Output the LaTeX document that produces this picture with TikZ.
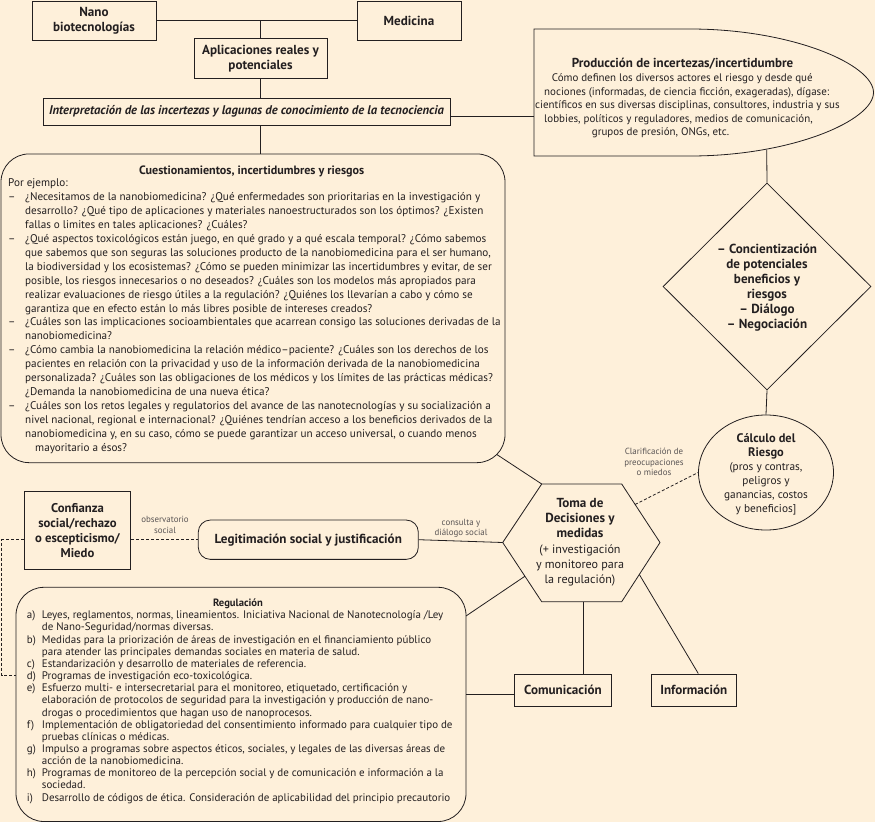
\documentclass[tikz,border=0pt]{standalone}
\usepackage{fontspec}
\setmainfont{PT Sans}
\usetikzlibrary{shapes.geometric,calc}
\definecolor{bg}{RGB}{254,240,218}
\definecolor{ink}{RGB}{35,31,32}
\definecolor{labelgray}{RGB}{90,85,85}
\newcommand{\fs}[2]{\fontsize{#1}{#2}\selectfont}
\newcommand{\itm}{\makebox[17pt][l]{–}}
\newcommand{\cnt}{\hspace*{17pt}}
\newcommand{\rl}[1]{\makebox[15pt][l]{#1}}
\newcommand{\rc}{\hspace*{15pt}}
\newcommand{\hb}[1]{{\fs{13.1}{15.8}\bfseries #1}}
\newcommand{\cb}[1]{{\fs{12.4}{16}\bfseries #1}}
\begin{document}
\begin{tikzpicture}[x=1pt,y=-1pt,
  every node/.style={inner sep=0pt, text=ink},
  box/.style={draw=ink, line width=0.8pt, rectangle, align=center, font=\bfseries\fs{13.1}{15}},
  conn/.style={draw=ink, line width=0.8pt},
  dconn/.style={conn, dash pattern=on 3pt off 2pt},
  smalllabel/.style={align=center, font=\fs{8.9}{10.8}, text=labelgray},
]
\fill[bg] (0,0) rectangle (875,822);
\useasboundingbox (0,0) rectangle (875,822);

% top boxes
\node[box, minimum width=124pt, minimum height=39.7pt] (nano) at (94,20.8) {Nano\\biotecnologías};
\node[box, minimum width=104pt, minimum height=39.7pt] (med) at (409,20.8) {Medicina};
\node[box, minimum width=133pt, minimum height=40.7pt] (apl) at (260.5,58.3) {Aplicaciones reales y\\potenciales};
\node[box, minimum width=407pt, minimum height=27pt, font=\bfseries\itshape\fs{12.6}{14}] (interp) at (246.5,111.5) {Interpretación de las incertezas y lagunas de conocimiento de la tecnociencia};

% production shape
\draw[conn] (534,29) -- (690,29) .. controls (791.6,29) and (873.5,64.4) .. (873.5,92.5) .. controls (873.5,120.6) and (791.6,156) .. (690,156) -- (534,156) -- cycle;
\coordinate (prodW) at (534,116);
\coordinate (prodS) at (766.7,150.2);
\node[font=\bfseries\fs{13}{14}] (prodtitle) at (682.5,63.3) {Producción de incertezas/incertidumbre};
\node[align=left, anchor=west, font=\fs{10.95}{13.4}] (prodbody) at (535,105.9) {%
\hspace*{16.7pt}Cómo definen los diversos actores el riesgo y desde qué\\
\hspace*{9pt}nociones (informadas, de ciencia ficción, exageradas), dígase:\\
científicos en sus diversas disciplinas, consultores, industria y sus\\
\hspace*{9pt}lobbies, políticos y reguladores, medios de comunicación,\\
\hspace*{56.7pt}grupos de presión, ONGs, etc.};

% questions box
\node[draw=ink, line width=0.8pt, rounded corners=28pt, minimum width=504pt, minimum height=308.7pt] (cuest) at (253,308.3) {};
\coordinate (cuestSE) at (496.8,454.5);
\node[font=\bfseries\fs{12.1}{13}] (cuesttitle) at (251.7,171) {Cuestionamientos, incertidumbres y riesgos};
\node[align=left, anchor=west, font=\fs{11.15}{13.9}] (cuestbody) at (8,316.2) {%
Por ejemplo:\\
\itm ¿Necesitamos de la nanobiomedicina? ¿Qué enfermedades son prioritarias en la investigación y\\
\cnt desarrollo? ¿Qué tipo de aplicaciones y materiales nanoestructurados son los óptimos? ¿Existen\\
\cnt fallas o limites en tales aplicaciones? ¿Cuáles?\\
\itm ¿Qué aspectos toxicológicos están juego, en qué grado y a qué escala temporal? ¿Cómo sabemos\\
\cnt que sabemos que son seguras las soluciones producto de la nanobiomedicina para el ser humano,\\
\cnt la biodiversidad y los ecosistemas? ¿Cómo se pueden minimizar las incertidumbres y evitar, de ser\\
\cnt posible, los riesgos innecesarios o no deseados? ¿Cuáles son los modelos más apropiados para\\
\cnt realizar evaluaciones de riesgo útiles a la regulación? ¿Quiénes los llevarían a cabo y cómo se\\
\cnt garantiza que en efecto están lo más libres posible de intereses creados?\\
\itm ¿Cuáles son las implicaciones socioambientales que acarrean consigo las soluciones derivadas de la\\
\cnt nanobiomedicina?\\
\itm ¿Cómo cambia la nanobiomedicina la relación médico–paciente? ¿Cuáles son los derechos de los\\
\cnt pacientes en relación con la privacidad y uso de la información derivada de la nanobiomedicina\\
\cnt personalizada? ¿Cuáles son las obligaciones de los médicos y los límites de las prácticas médicas?\\
\cnt ¿Demanda la nanobiomedicina de una nueva ética?\\
\itm ¿Cuáles son los retos legales y regulatorios del avance de las nanotecnologías y su socialización a\\
\cnt nivel nacional, regional e internacional? ¿Quiénes tendrían acceso a los beneficios derivados de la\\
\cnt nanobiomedicina y, en su caso, cómo se puede garantizar un acceso universal, o cuando menos\\
\hspace*{27pt}mayoritario a ésos?};

% diamond
\node[draw=ink, line width=0.8pt, shape=diamond, aspect=1, minimum width=208pt, minimum height=207pt] (diam) at (767,286.5) {};
\node[align=center, font=\bfseries\fs{13.1}{15.1}] (diamtext) at (767,287.8) {– Concientización\\de potenciales\\beneficios y\\riesgos\\– Diálogo\\– Negociación};

% calculo
\node[draw=ink, line width=0.8pt, shape=ellipse, minimum width=135pt, minimum height=115pt] (calc) at (766,472.5) {};
\node[align=center, font=\fs{11.3}{13.9}] (calctext) at (766,474.5) {\cb{Cálculo del}\\\cb{Riesgo}\\(pros y contras,\\peligros y\\ganancias, costos\\y beneficios]};
\node[smalllabel] (lclar) at (654,462) {Clarificación de\\preocupaciones\\o miedos};

% hexagon
\coordinate (h1) at (541.7,484);
\coordinate (h2) at (621.7,484);
\coordinate (h3) at (660,542.5);
\coordinate (h4) at (621.7,601.7);
\coordinate (h5) at (541.7,601.7);
\coordinate (h6) at (502.7,542.5);
\draw[conn] (h1) -- (h2) -- (h3) -- (h4) -- (h5) -- (h6) -- cycle;
\node[align=center, font=\fs{12.1}{15.2}] (hex) at (580,542.3) {\hb{Toma de}\\\hb{Decisiones y}\\\hb{medidas}\\(+ investigación\\y monitoreo para\\la regulación)};
\coordinate (hLL) at ($(h6)!0.57!(h5)$);
\coordinate (hLR) at ($(h3)!0.54!(h4)$);
\coordinate (hUR) at ($(h2)!0.35!(h3)$);
\coordinate (hB) at ($(h5)!0.525!(h4)$);

% left middle
\node[box, minimum width=106.4pt, minimum height=78pt, font=\bfseries\fs{12.7}{15}] (conf) at (77.5,530.3) {Confianza\\social/rechazo\\o escepticismo/\\Miedo};
\node[box, rounded corners=12pt, minimum width=220pt, minimum height=39.3pt] (legit) at (308.3,539.7) {Legitimación social y justificación};
\node[smalllabel] (lobs) at (165,524.5) {observatorio\\social};
\node[smalllabel] (lcons) at (461,528.3) {consulta y\\diálogo social};

% regulation
\node[draw=ink, line width=0.8pt, rounded corners=28pt, minimum width=450pt, minimum height=234.2pt] (reg) at (241,704.4) {};
\coordinate (regNE) at (466,616);
\coordinate (dashL) at (1.7,675);
\node[font=\bfseries\fs{10.6}{12}] (regtitle) at (238,604) {Regulación};
\node[align=left, anchor=west, font=\fs{10.95}{12.15}] (regbody) at (26.7,707.2) {%
\rl{a)}Leyes, reglamentos, normas, lineamientos. Iniciativa Nacional de Nanotecnología /Ley\\
\rc de Nano-Seguridad/normas diversas.\\
\rl{b)}Medidas para la priorización de áreas de investigación en el financiamiento público\\
\rc para atender las principales demandas sociales en materia de salud.\\
\rl{c)}Estandarización y desarrollo de materiales de referencia.\\
\rl{d)}Programas de investigación eco-toxicológica.\\
\rl{e)}Esfuerzo multi- e intersecretarial para el monitoreo, etiquetado, certificación y\\
\rc elaboración de protocolos de seguridad para la investigación y producción de nano-\\
\rc drogas o procedimientos que hagan uso de nanoprocesos.\\
\rl{f)}Implementación de obligatoriedad del consentimiento informado para cualquier tipo de\\
\rc pruebas clínicas o médicas.\\
\rl{g)}Impulso a programas sobre aspectos éticos, sociales, y legales de las diversas áreas de\\
\rc acción de la nanobiomedicina.\\
\rl{h)}Programas de monitoreo de la percepción social y de comunicación e información a la\\
\rc sociedad.\\
\rl{i)}Desarrollo de códigos de ética. Consideración de aplicabilidad del principio precautorio};

\node[box, minimum width=97.4pt, minimum height=32.7pt] (com) at (563,690.3) {Comunicación};
\node[box, minimum width=85.7pt, minimum height=32.7pt] (inf) at (693.8,690.3) {Información};
\coordinate (comW) at ($(com.west)+(0,4)$);

% connectors
\draw[conn] (nano.east) -- (med.west);
\draw[conn] (apl.north) -- (apl.north |- nano.east);
\draw[conn] (apl.south) -- (apl.south |- interp.north);
\draw[conn] (apl.south |- interp.south) -- (apl.south |- cuest.north);
\draw[conn] (interp.east |- prodW) -- (prodW);
\draw[conn] (prodS) -- (diam.north);
\draw[conn] (diam.south) -- (calc.north);
\draw[dconn] (hUR) -- (calc.west);
\draw[conn] (cuestSE) -- (h1);
\draw[conn] (legit.east) -- (h6);
\draw[dconn] (conf.east |- legit.west) -- (legit.west);
\draw[dconn] (conf.west |- legit.west) -| (dashL) -- (dashL -| reg.west);
\draw[conn] (regNE) -- (hLL);
\draw[conn] (comW) -- (comW -| reg.east);
\draw[conn] (hB) -- (hB |- com.north);
\draw[conn] (hLR) -- ($(inf.north)+(4.5,0)$);
\end{tikzpicture}
\end{document}
